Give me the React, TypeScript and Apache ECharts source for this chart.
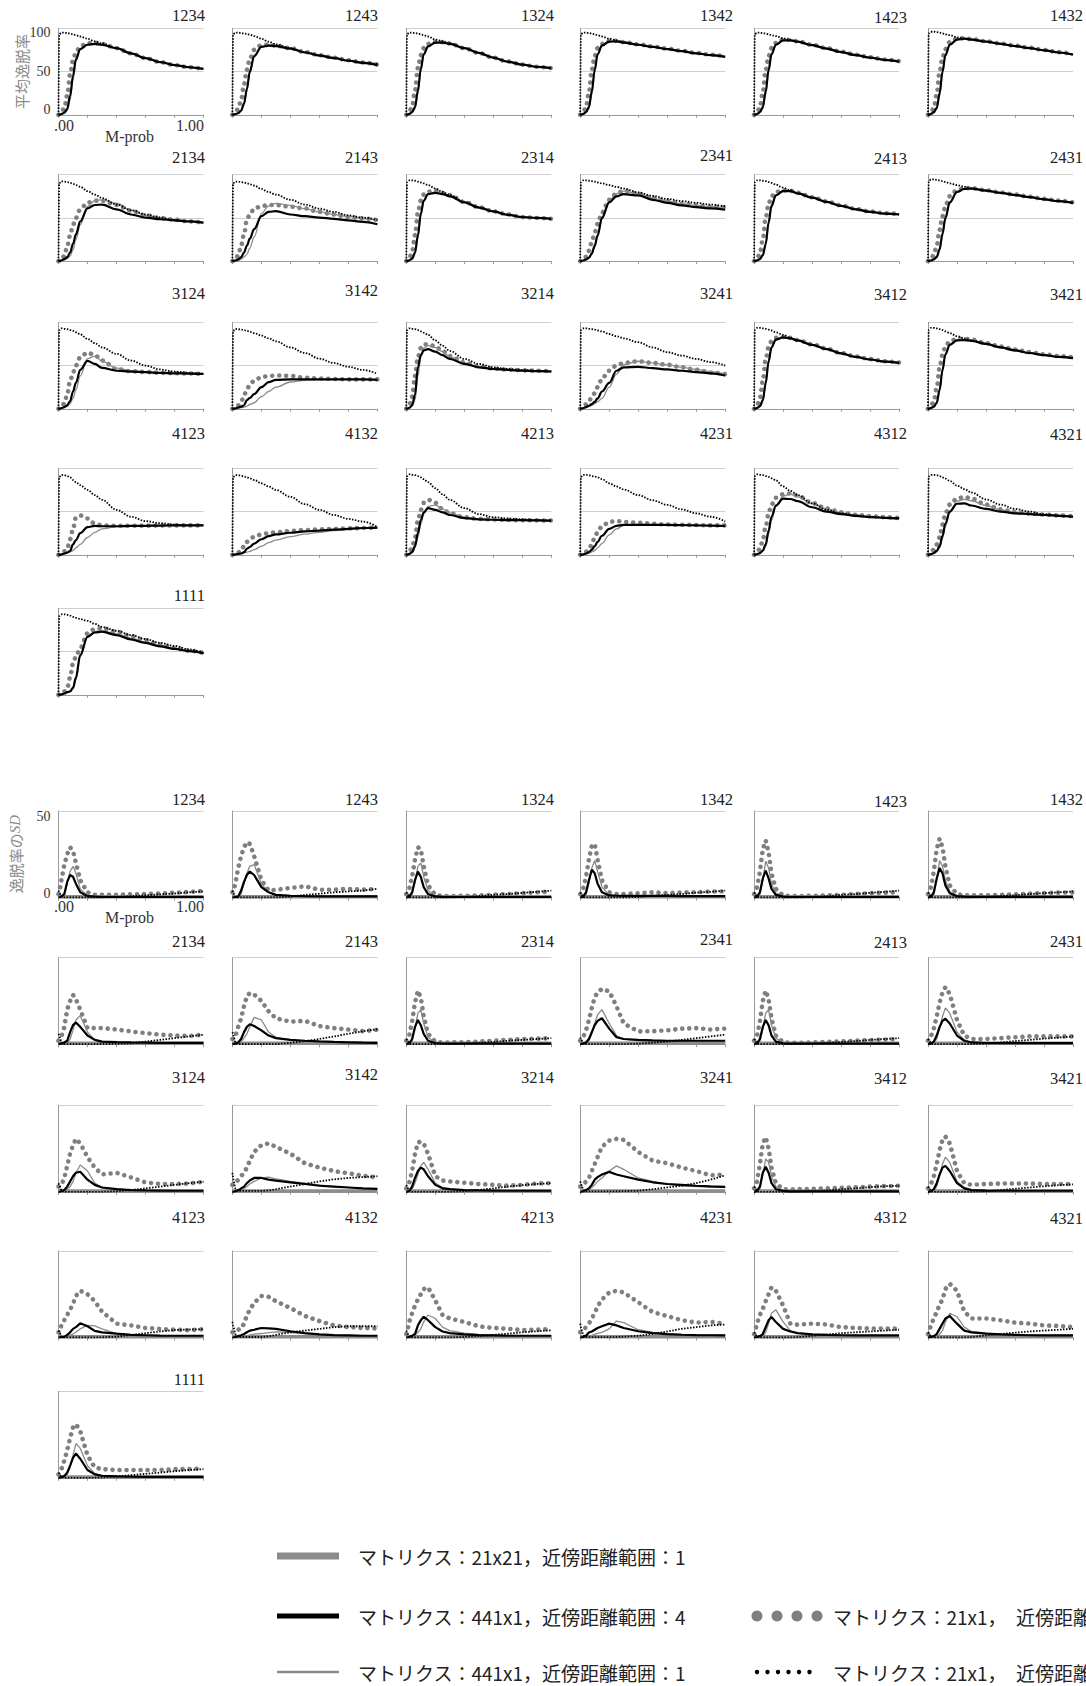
import React, { useEffect, useRef } from "react";
import * as echarts from "echarts";

// ---------------- data ----------------
const PANELS = ["1234","1243","1324","1342","1423","1432","2134","2143","2314","2341","2413","2431","3124","3142","3214","3241","3412","3421","4123","4132","4213","4231","4312","4321","1111"];

const X = [0, 0.005, 0.02, 0.04, 0.06, 0.08, 0.1, 0.12, 0.15, 0.2, 0.25, 0.3, 0.4, 0.5, 0.6, 0.7, 0.8, 0.9, 1.0];

const MEAN_Y_TICKS = [0, 50, 100];
const SD_Y_TICKS = [0, 50];
const X_TICKS = [0, 0.2, 0.4, 0.6, 0.8, 1.0];
const X_TICK_LABELS = [".00", "", "", "", "", "1.00"];

// 平均逸脱率 — マトリクス：21x1 (dotted black)
const MEAN_DOTTED = [
  [0,93,95,95,94.5,94,93,92,90.5,88,85,82.5,77,71,65.5,61,57.5,55,53],
  [0,93,95,95,94.5,94,93.5,92.5,91,88,84.5,81.5,77,72.5,69,66,63,60.5,58.5],
  [0,93,95,95,94.5,94,93,92,90.5,87,85,82.5,77,71.5,66,61.5,58,55.5,54],
  [0,93,95,95,94.5,94,93,92,90.5,88,86,84,81,78.5,76,73.5,71,69,67],
  [0,93,95,95,94.5,94,93,92,91,88.5,86.5,84.5,80.5,76.5,72.5,69,66,63.5,61.5],
  [0,94,96,96,95.5,95,94,93,92,89.5,88,87,84.5,82,79.5,77,74.5,72,69.5],
  [0,90,92.4,92,91.5,90.5,89.5,88,86,81,77,73,65.5,59,54,50.5,47.7,45.8,44.5],
  [0,90,92,92,91.5,91,90,89,87.5,83.5,80,77,71,65.5,60.7,57,53,50.4,47.7],
  [0,91,93.5,93.5,93,92,91,90,88,84,80,76.5,68.5,62.5,57.7,54,51,50,49],
  [0,91,93.5,93.5,93,92.5,92,91,90,88,86,84,79.5,75.5,72,69.5,67.5,65.5,63.5],
  [0,91,93.5,93.5,93,92.5,91.5,90.5,88.5,85,82,78.5,73.5,68.5,64,60,57,55,54],
  [0,92,94.5,94.5,94,93.5,92.5,91.5,90,88,86,84.3,81.5,79,76.5,74,71.5,69.5,67.5],
  [0,91,93,92.5,92,91,90,88.5,86,80.8,76,71,63.5,55.8,50,45.5,43,41.5,40.4],
  [0,90,92.3,92,91.5,91,90,89,87.5,84.6,81.5,78,71,64.5,58,53,48.5,45,40.5],
  [0,91,93,92.5,92,91,89.5,88,85.5,79,73,67,57.7,52,48,46,45,44,43.5],
  [0,91,93,93,92.5,92,91.5,90.5,89.5,86.5,84,81.5,77,71,65.5,61.5,57.7,54,50],
  [0,91,93.5,93.5,93,92.5,91.5,90.5,88.5,85.5,82,79,74,69,64,60,57,54.5,53],
  [0,91,93.5,93.5,93,92,91,89.5,87.5,84,81.5,79,75,71,67.5,64.5,62,60,58.5],
  [0,90,92.3,92,91,89.5,86.5,84,80.5,75,69,63.5,52,44,39,36.5,35,34,34],
  [0,90,92,92,91.5,90.5,89.5,88.5,86.5,82.7,79,75,67,58.5,52,46,41.5,38.5,32],
  [0,91,93,92.5,92,91,89.5,87.5,84,77,70,63.5,54,47,43.5,42,41,40.3,39.6],
  [0,90,92.5,92.5,92,91,90.5,89.5,87.5,82.7,79,75.5,69,63,57.7,52.5,48,44,38.5],
  [0,91,93,92.5,92,91,90,88.5,86,79,74,69,59.6,52,48,45.5,44,43,42.3],
  [0,90.5,92.5,92.5,92,91,89.5,88,85.5,80,76,72,64,58,53,50,47,45.5,44],
  [0,91,93,93,92.5,91.5,90,89,87.5,85.5,82,78.5,74,69,64.5,60,56.5,52.5,48.5],
];

// 平均逸脱率 — マトリクス：441x1，近傍距離範囲：4 (thick black)
const MEAN_BLACK = [
  [0,0,1,2.5,7,22,45,64,76,81,82,81,77,71,65.5,61,57.5,55,53],
  [0,0,0.8,2,5,13,30,50,68,78.5,80,79.5,76.5,72,68.5,65.5,62.5,60,57.5],
  [0,0,1,3,9,28,53,70,79,83.5,83.5,82,77,71.5,66,61.5,58,55.5,54],
  [0,0,1,3,9,27,52,70,80,84.5,85,83.5,81,78.5,76,73.5,71,69,67],
  [0,0,1,3,9,27,52,70,81,86,86,84.5,80.5,76.5,72.5,69,66,63.5,61.5],
  [0,0,1,3,8,25,50,69,81,87,88,87,84.5,82,79.5,77,74.5,72,69.5],
  [0,0,1,2.5,4.6,10,20,31,46,61,65,65.5,60,54,50.4,48.5,47.3,46,44.7],
  [0,0,0.8,2,4.6,10,18,26,37,52,57,58,54,52,50.4,49,47.3,45.5,42.7],
  [0,0,1,3,10,30,55,70,77.5,79,77.5,75,68,62,57.5,53.5,51,50,49],
  [0,0,0.8,2,4,9,18,30,50,68,75,77.5,76,71,67.5,64.5,62.5,61,59.5],
  [0,0,1,2.5,7,20,45,64,76,81,81,78.5,73.5,68.5,64,60,57,55,54],
  [0,0,0.8,2,5,14,32,50,68,80,83.5,84,81.5,79,76.5,74,71.5,69.5,67.5],
  [0,0,0.8,2,4,9,20,30,45,55.5,52,47.3,44,43,42.3,41.5,41,40.7,40.4],
  [0,0,0.5,1.5,2.5,4,10,12.5,17,25,30.8,33.5,34,34,34,34,34,34,33.5],
  [0,0,1,4,16,48,62,67.5,69,66,62,57.7,52,48,46,45,44,43.5,43],
  [0,0,0.8,2,3.5,5.5,8,12,20,30,44,48,48.5,47,45.5,44,42.5,41,38.5],
  [0,0,1,3,10,30,55,71,80,82.5,81.5,79,74,69,64,60,57,54.5,53],
  [0,0,1,2.5,7,22,45,63,74,79,79.5,78.5,75,71,67.5,64.5,62,60,58.5],
  [0,0,0.5,1.5,2.5,4.5,12,17,25,32,33.5,33,33,33.5,33.5,33.8,34,34,34],
  [0,0,0.5,1,1.5,3,7,9,13,18,21.5,23.5,25.5,27,28,29,30,31,31.5],
  [0,0,1,3,10,25,40,49,54,52,49,46,42.5,41,40.5,40,40,39.8,39.5],
  [0,0,0.5,1.5,3,6,10,15,22,30,33.5,34.5,34.5,34.5,34.5,34.3,34,33.8,33.5],
  [0,0,0.8,2,5,12,28,44,57,65,64.5,62,55,50,47,45,43.5,42.8,42],
  [0,0,0.8,2,4.5,10,22,36,50,59,59.5,57,53,50,48,47,46,45,44],
  [0,0,0.5,1.5,3,4,8,20,46,67,72,73,69,64,60,56,53,50.5,48],
];

// 平均逸脱率 — マトリクス：441x1，近傍距離範囲：1 (thin gray)
const MEAN_GRAY = [
  [0,0,0.8,2,5,17,40,62,76,81.5,82.5,81,77,71,65.5,61,57.5,55,53],
  [0,0,0.6,1.5,4,11,27,48,67,79,81,80,77,72.5,69,66,63,60.5,58],
  [0,0,0.8,2.5,7,24,50,69,79,84,84,82.5,77,71.5,66,61.5,58,55.5,54],
  [0,0,0.8,2.5,7,23,49,69,80,85,85.5,84,81.5,79,76.5,74,71.5,69.5,67.5],
  [0,0,0.8,2.5,7,23,49,69,81,86.5,86.5,85,81,77,73,69.5,66.5,64,62],
  [0,0,0.8,2.5,6,21,47,68,81,87.5,88.5,87.5,85,82.5,80,77.5,75,72.5,70],
  [0,0,0.5,1.5,3,6,13,25,42,63,70,71,67,59,53,50,48,46,44.5],
  [0,0,0.5,1,2.5,5,8,15,28,55,64,66.8,64.5,60.7,57,54,51.5,49,47.7],
  [0,0,0.8,2.5,8,26,52,69,78,80,78.5,76,68.5,62.5,57.7,54,51,50,49],
  [0,0,0.6,1.5,3.5,8,16,28,48,70,78,81,78,73,69.5,66.5,64.5,63,62],
  [0,0,0.8,2,6,18,42,62,76,81.5,81.5,79,74,69,64.5,60.5,57.5,55.5,54.5],
  [0,0,0.6,1.5,4,12,29,48,67,80.5,84,84.5,82,79.5,77,74.5,72,70,68],
  [0,0,0.5,1.5,3,6,12,22,38,58,61,55,47,44,42.5,41.7,41.2,40.8,40.4],
  [0,0,0.3,0.8,1.5,2,3,5,7,14,20,25,31,33,33.8,34,34,34,34],
  [0,0,0.8,3,10,38,60,70,73,71,66,60,53,48.5,46.2,45.2,44.3,43.8,43.3],
  [0,0,0.5,1.5,2.5,4,6,8,12,25,40,51,55,53,51,48,45.5,43,40],
  [0,0,0.8,2.5,8,27,53,70,80,83,82,79.5,74.5,69.5,64.5,60.5,57.5,55,53.5],
  [0,0,0.8,2,6,20,43,62,74,80,80.5,79.5,75.5,71.5,68,65,62.5,60.5,59],
  [0,0,0.3,1,2,3.5,5,8,12,20,26,30,32.5,33,33.5,33.8,34,34,34],
  [0,0,0.3,0.8,1.2,2,3,4,6,10,14,17,21,24,26,28,29.5,30.5,31],
  [0,0,0.8,2.5,8,20,35,47,56,57.5,53,48.5,43.5,41.5,40.8,40.3,40,39.8,39.6],
  [0,0,0.3,1,2,3.5,5,8,13,23,30,34,35.5,35,34.5,34.3,34,33.8,33.5],
  [0,0,0.6,1.5,4,10,24,40,56,68,70,67,59,53,48.5,46,44.5,43.3,42.5],
  [0,0,0.6,1.5,3.5,8,19,33,49,62,64,62.5,57,52,49,47.5,46.3,45.3,44.3],
  [0,0,0.5,1.2,2.5,4,7,17,44,67,73,74,70.5,65.5,61,57,54,51,48.5],
];

// 平均逸脱率 — マトリクス：21x1 (gray dots)
const MEAN_DOTS = [
  [0,0.5,3,8,22,47,63,72,79,83,83,82,77,71,65.5,61,57.5,55,53],
  [0,0.5,2.5,7,17,35,52,65,75,80.5,81,80,77,72.5,69,66,63,60.5,58],
  [0,0.5,3,10,28,54,69,77,82,84.5,84,82.5,77,71.5,66,61.5,58,55.5,54],
  [0,0.5,3,9,26,52,68,77,82,85.5,85.5,84,81.5,79,76.5,74,71.5,69.5,67.5],
  [0,0.5,3,9,26,52,68,77,83,87,86.5,85,81,77,73,69.5,66.5,64,62],
  [0,0.5,3,8,24,50,66,76,84,88,88.5,87.5,85,82.5,80,77.5,75,72.5,70],
  [0,0.3,2,6,17,30,42,50,60,67.6,70,70,65,58.5,53,50,48,46,44.5],
  [0,0.3,2,6.5,18,31,48,54,60.7,63.7,65,65,63,61,57,54,51,49.5,47.5],
  [0,0.5,3.5,11,30,56,70,77,80.5,81.5,79,76.5,68.5,62.5,57.7,54,51,50,49],
  [0,0.3,2,5,12,22,33,43,56,71,78,81.5,78,73,69.5,66.5,64.5,63,62],
  [0,0.5,3,9,25,50,66,75,80,82,81.5,79,74,69,64.5,60.5,57.5,55.5,54.5],
  [0,0.4,2.5,7,18,36,52,64,75,82,84.5,84.5,82,79.5,77,74.5,72,70,68],
  [0,0.3,2,6,17,32,42,50,59.6,65,62,55.8,46,43.5,42.5,41.7,41.2,40.8,40.4],
  [0,0.3,1.5,4,8,15,23,27,32.7,36.5,38,38.5,38,36,35,34.5,34,34,34],
  [0,0.5,4,14,38,60,70,74,75,72,67,61,53.5,49,46.5,45.3,44.5,44,43.5],
  [0,0.3,2,5,9,13,18,25,35,44,50,53,55,53,51,48,45,42,40],
  [0,0.5,4,12,32,57,71,78,82,83,82,79.5,74.5,69.5,64.5,60.5,57.5,55,53.5],
  [0,0.5,3,9,24,47,63,72,78,81,81,80,76,72,68.5,65.5,63,61,59.5],
  [0,0.3,2,4,7,18,30,43,45.5,42,36,34,33.5,33.5,33.7,33.8,34,34,34],
  [0,0.3,1.5,3,4,10,15,17.5,21,23.5,25,26,27.5,28.5,29.5,30,30.5,31,31.5],
  [0,0.5,3,9,20,40,52,60,63.5,60,53,48,43.5,41.5,40.8,40.3,40,39.8,39.6],
  [0,0.3,1.5,3.5,6,12,20,26,33,38,39,38,37,36,35,34.7,34.4,34,34],
  [0,0.4,2.5,7,17,33,48,58,66,70,71,68.5,60,53.5,49,46.3,44.7,43.5,42.5],
  [0,0.4,2.5,6,12,20,35,48,58,65,67,65,58,52.5,49.5,47.8,46.5,45.5,44.5],
  [0,0.4,2,4,7.8,20,36,44,54,71,76,77,73,68,63,58,54,51,48.5],
];

// 逸脱率のSD — マトリクス：21x21，近傍距離範囲：1 (thick gray, shown only in the SD panels)
const SD_THICK = [0.5,0.5,0.5,0.5,0.5,0.5,0.5,0.5,0.5,0.5,0.5,0.5,0.5,0.5,0.5,0.5,0.5,0.5,0.5];

// 逸脱率のSD
const SD_BLACK = [
  [0,0,0.5,2,9,13,12,8,3,0.8,0.5,0.3,0.3,0.3,0.3,0.3,0.3,0.3,0.3],
  [0,0,0.2,0.5,4,9,13,15,13,6,3,1.5,1,0.8,0.7,0.6,0.6,0.6,0.6],
  [0,0,0.5,3,10,15,12,6,2,0.6,0.4,0.3,0.3,0.3,0.3,0.3,0.3,0.3,0.3],
  [0,0,0.5,3,10,16,14,8,3,1.2,1,0.9,0.9,0.9,0.9,0.8,0.8,0.8,0.8],
  [0,0,0.5,3,11,15.5,11,5,1.5,0.5,0.3,0.3,0.3,0.3,0.3,0.3,0.3,0.3,0.3],
  [0,0,0.5,3,11,17,14,7,2.5,0.8,0.5,0.4,0.4,0.4,0.4,0.4,0.4,0.4,0.4],
  [0,0,0.3,1,2,7,11,12.5,10,5,2.5,1.5,1.2,1,0.9,0.8,0.8,0.8,0.8],
  [0,0,0.3,1,3,7,10,11.5,10.5,8,5,3.5,2.5,2,1.6,1.3,1.1,0.9,0.8],
  [0,0,0.5,3,10,14,11,6,2,0.6,0.4,0.3,0.3,0.3,0.3,0.3,0.3,0.3,0.3],
  [0,0,0.3,1,3,7,11,13.5,15,9,4,3,2.5,2.2,2,2,2,2,2],
  [0,0,0.5,3,10,14,11,5,1.5,0.5,0.3,0.3,0.3,0.3,0.3,0.3,0.3,0.3,0.3],
  [0,0,0.3,1.5,5,10,13.5,14.7,12,5,2,1,0.7,0.6,0.6,0.6,0.6,0.6,0.6],
  [0,0,0.3,1,3,6,9,11,11.6,7,4,2.5,1.5,1,0.8,0.7,0.6,0.6,0.6],
  [0,0,0.3,0.8,2,3,5,6.5,8,8,7,6.5,5.5,4.5,3.5,3,2.5,2,1.7],
  [0,0,0.5,3,8,12,14,13,9,4,2,1.5,1,0.8,0.7,0.6,0.6,0.6,0.6],
  [0,0,0.3,1,2,4,7,8.5,10,11.5,10,9,7,5.5,4.5,4,3.5,3.1,2.8],
  [0,0,0.5,3,11,14.5,11,5,1.5,0.5,0.3,0.3,0.3,0.3,0.3,0.3,0.3,0.3,0.3],
  [0,0,0.3,1.5,5,10,14,15,12,5,2,1,0.7,0.6,0.6,0.6,0.6,0.6,0.6],
  [0,0,0.2,0.4,1.5,3,5,6,8.2,6.5,3.8,3,2.2,1.5,1.3,1.1,1,1,1],
  [0,0,0.3,0.8,1.3,2,3,4,4.5,5.5,5.3,5,3.6,2.5,1.8,1.4,1.2,1,1],
  [0,0,0.3,1,2,7,10,12,10,6,3.5,2.5,1.8,1.4,1.2,1,1,1,1],
  [0,0,0.3,1,2.9,3.5,4.5,5.5,6.5,8,7,5.5,3.6,2.5,2,1.6,1.4,1.3,1.2],
  [0,0,0.3,0.8,2,6,10,11.8,9,5,3.5,2.5,1.8,1.5,1.3,1.2,1.2,1.2,1.2],
  [0,0,0.3,0.8,2,5,8,11,12.4,8,4,3,2.2,1.8,1.5,1.3,1.2,1.2,1.2],
  [0,0,0.3,1,3,7,11.5,14,11,4.5,2,1.2,0.8,0.6,0.5,0.5,0.5,0.5,0.5],
];

const SD_GRAY = [
  [0,0,0.2,1,8,15,18,14,5,1,0.5,0.3,0.3,0.3,0.3,0.3,0.3,0.3,0.3],
  [0,0,0.2,0.5,2,8,14,18,19,8,3,1.5,1,0.8,0.6,0.5,0.5,0.5,0.5],
  [0,0,0.2,1.5,9,18,20,12,4,0.8,0.4,0.3,0.3,0.3,0.3,0.3,0.3,0.3,0.3],
  [0,0,0.2,1.5,8,17,21.4,15,6,1.5,1,0.8,0.8,0.8,0.8,0.8,0.8,0.8,0.8],
  [0,0,0.2,1.5,10,21,17,8,2.5,0.6,0.4,0.3,0.3,0.3,0.3,0.3,0.3,0.3,0.3],
  [0,0,0.2,1.5,10,21.4,18,10,3.5,1,0.5,0.4,0.4,0.4,0.4,0.4,0.4,0.4,0.4],
  [0,0,0.2,0.5,1,3,8,14,16.5,7,2.5,1.5,1,0.8,0.8,0.8,0.8,0.8,0.8],
  [0,0,0.2,0.5,1.5,3.5,6,10,15.5,14,7,4,2.5,1.8,1.4,1.2,1.1,1,1],
  [0,0,0.2,1.5,9,18,20,12,4,0.8,0.4,0.3,0.3,0.3,0.3,0.3,0.3,0.3,0.3],
  [0,0,0.2,0.5,2,6,12,17,20,12,5,3,2,1.6,1.4,1.3,1.2,1.2,1.2],
  [0,0,0.2,1.5,9,18,20,11,3.5,0.7,0.4,0.3,0.3,0.3,0.3,0.3,0.3,0.3,0.3],
  [0,0,0.2,0.8,3,9,16,21,18,7,2.5,1.2,0.8,0.6,0.6,0.6,0.6,0.6,0.6],
  [0,0,0.2,0.5,1.5,3,6,11,15.5,12,5,2.5,1.5,1,0.8,0.7,0.6,0.6,0.6],
  [0,0,0.2,0.5,1,2,3,4.5,6,8,8.5,7.5,6,5,4,3,2.5,2,1.7],
  [0,0,0.2,1.5,5,10,15,17,13,5,2.5,1.5,1,0.8,0.7,0.6,0.6,0.6,0.6],
  [0,0,0.2,0.5,1.5,2.5,4,6,8,12,15,13,8,6,4.5,3.5,3,2.7,2.5],
  [0,0,0.2,1.5,10,19,17,9,3,0.7,0.4,0.3,0.3,0.3,0.3,0.3,0.3,0.3,0.3],
  [0,0,0.2,0.8,3,9,16,20,17,6,2.5,1.2,0.8,0.6,0.6,0.6,0.6,0.6,0.6],
  [0,0,0.2,0.3,0.6,1.2,2,3,5,7,6.7,5,2.3,1.6,1.3,1.1,1,1,1],
  [0,0,0.2,0.3,0.5,0.8,1,1.5,2,2.3,2.8,3.2,2.9,2.3,1.7,1.4,1.2,1,1],
  [0,0,0.2,0.5,1.5,3,5,9,13,11,6,4,2.5,1.8,1.4,1.2,1,1,1],
  [0,0,0.2,0.4,0.8,1.2,1.8,2.4,3,5,9.5,8.6,4.5,3,2.2,1.8,1.6,1.5,1.5],
  [0,0,0.2,0.4,1,3,8,14,16,9,4,2.5,1.8,1.4,1.2,1,1,1,1],
  [0,0,0.2,0.4,1,2,4,9,14,12,6,3.5,2.5,2,1.6,1.4,1.3,1.3,1.3],
  [0,0,0.2,0.6,2,6,13,19.8,17,7,2.5,1.3,0.8,0.6,0.5,0.5,0.5,0.5,0.5],
];

const SD_DOTS = [
  [2,3,10,19,25,29,27,20,10,3,1.5,1.5,1.5,1.8,2,2.3,2.8,3.2,3.8],
  [3,3,8,17,24,29,32,31,24,10,4,4.5,5.5,6.5,4.5,4.5,5,4.5,5],
  [2,3,5,12,22,29,28,18,7,1.5,0.8,0.8,1,1.2,1.6,2,2.5,3,3.5],
  [2,3,5,12,22,30,31,22,10,3,2,2,2.5,3,2.5,3,3,3.5,3.5],
  [2,3,6,15,28,33,26,14,5,1.2,0.8,0.8,1,1.2,1.5,2,2.5,2.8,3],
  [2,3,6,15,28,34,29,18,7,2,1.2,1.2,1.3,1.5,1.8,2.2,2.5,2.8,3],
  [2,3,4.5,10,20,25,28.5,26,20,9.3,9.3,9.3,8.5,7.4,6.4,5.5,5,4.8,5.5],
  [3,3,4.5,10,15,22,27.7,29.6,28.7,25,19,15,13,13.5,10.5,9.3,8.5,7.5,8.3],
  [2,3,5,13,24,31,27,16,6,1.5,1,1,1.2,1.5,2,2.5,3,3.2,3.5],
  [2,3,4,8,14,21,27,30,32,30.5,22,12,7.4,7.5,8,9,9.3,8.5,9],
  [2,3,5,13,25,31,26,15,5,1.2,0.8,0.8,1,1.3,1.6,2,2.4,2.7,3],
  [2,3,4.5,9,16,24,30,33,29,14,5,3,3,3.5,4,4.5,4.5,4.5,4.5],
  [3,3,4,8,15,22,27,30.6,28,20,14,10,11,8.3,5.4,4.5,4.5,4.8,5.8],
  [4,4,5,7,9,11,14,18,23,27,28,26,22,16.5,14,12,10.7,9.3,8.3],
  [2,3,5,12,22,28.5,29,28,22,9,6.5,6,5.2,4.5,4,3.5,4,4.8,5],
  [3,3,4,6,8,12,16,20,26,29.6,30.6,30,23,18,16.5,14,12,9.5,10],
  [2,3,6,16,28,31.6,25,14,5,1.5,1.5,1.5,1.7,2,2.3,2.6,3,3.3,3.5],
  [2,3,4.5,9,16,24,30,32,28,12,5,4,4.5,4.8,4.8,4.8,4.5,4.5,4.5],
  [3,3,7,10,13,16,19.5,24,27,25,21,15,8,7,5.5,5,4.5,4.2,4.8],
  [3,3,4,4.5,5,8,12.8,16,20,24,23.5,21,17,12.5,9.5,7,6,5.5,5.2],
  [2,3,9,14,18.5,22,25,28,29,21.4,13,11,9,6.5,5.5,5,4.3,4.5,5],
  [3,3,4,6,8,11,14,18,22,26,27,26,20.4,14.7,12.4,10,8.6,9,8],
  [2,3,8,13,16.6,21,25,29,27,18.5,8,7.4,8,7.5,6,5.5,5.2,5.2,5.2],
  [2,3,7,11,14.7,19,22,28,31,27,15,11,11,10,8.6,8,7,6.7,6],
  [2,3,5,10,16,23,29,31,27,13,6,5,4.5,4.5,4.5,4.5,5,5,5.5],
];

const SD_DOTTED = [
  [4,3,0.5,0,0,0,0,0,0,0,0,0,0.3,0.8,1.3,1.8,2.3,3,3.5],
  [4,3,0.3,0,0,0,0,0,0,0,0,0,0.5,1.5,2.2,3,3.5,4,5],
  [3,2.5,0.3,0,0,0,0,0,0,0,0,0,0.3,0.8,1.5,2,2.7,3.3,4],
  [3,2.5,0.3,0,0,0,0,0,0,0,0,0,0.3,1,1.5,2,2.8,3.3,4],
  [3,2.5,0.3,0,0,0,0,0,0,0,0,0,0.3,0.8,1.5,2,2.7,3.3,4],
  [3,2.5,0.3,0,0,0,0,0,0,0,0,0,0.3,0.8,1.3,2,2.5,3,3.5],
  [6,5,1,0,0,0,0,0,0,0,0,0,0.2,0.5,1.5,2.5,3.5,4.5,5.5],
  [7,6,1,0,0,0,0,0,0,0,0,0,0.8,1.8,3,4.5,6,7.5,8.7],
  [3,2.5,0.3,0,0,0,0,0,0,0,0,0,0.3,0.8,1.3,2,2.5,3,3.5],
  [4,3,0.5,0,0,0,0,0,0,0,0,0,0.3,0.8,1.5,2.5,3.5,4.5,5.5],
  [3,2.5,0.3,0,0,0,0,0,0,0,0,0,0.3,0.8,1.3,1.8,2.5,3,3.5],
  [3,2.5,0.3,0,0,0,0,0,0,0,0,0,0.3,1,1.8,2.5,3.2,3.8,4.5],
  [5,4,0.8,0,0,0,0,0,0,0,0,0,0.3,1,2,3,4,5,5.8],
  [11,8,2,0.5,0.5,0.5,0.5,0.5,0.5,0.5,0.8,1.5,3,4.5,6,7.2,8,8.5,9],
  [4,3,0.5,0,0,0,0,0,0,0,0,0,0.3,1,2,3,3.8,4.5,5],
  [6,5,1,0.3,0.3,0.3,0.3,0.3,0.3,0.3,0.3,0.4,0.6,1.5,2.5,3.5,5,7,9.5],
  [3,2.5,0.3,0,0,0,0,0,0,0,0,0,0.3,0.8,1.5,2,2.7,3.2,3.5],
  [3,2.5,0.3,0,0,0,0,0,0,0,0,0,0.3,1,1.8,2.5,3.2,3.8,4.3],
  [4,3.5,0.5,0,0,0,0,0,0,0,0,0.1,0.5,1.5,2.5,3.5,4.3,4.6,4.8],
  [9,7,2,0.3,0.3,0.3,0.3,0.3,0.3,0.3,0.7,1.5,3,4,5,6,6.5,6.5,6.5],
  [4,3,0.5,0,0,0,0,0,0,0,0,0,0.3,0.8,1.5,2.2,3,3.6,4.2],
  [8,6,1.5,0.2,0.2,0.2,0.2,0.2,0.2,0.2,0.3,0.5,1,2,3.5,5,6,7,7.5],
  [3,2.5,0.3,0,0,0,0,0,0,0,0,0.2,1,1.8,2.5,3,3.5,4,4.5],
  [3,2.5,0.3,0,0,0,0,0,0,0,0,0.3,1.2,2,2.8,3.5,4,4.5,5],
  [3,2.5,0.3,0,0,0,0,0,0,0,0,0.2,0.8,1.5,2.3,3,3.8,4.5,5],
];

const LEGEND_LABELS = [
  "マトリクス：21x21，近傍距離範囲：1",
  "マトリクス：441x1，近傍距離範囲：4",
  "マトリクス：441x1，近傍距離範囲：1",
  "マトリクス：21x1，　近傍距離範囲：4",
  "マトリクス：21x1，　近傍距離範囲：1",
];
const Y_NAME_MEAN = "平均逸脱率";
const Y_NAME_SD = "逸脱率の{i|SD}";
const X_NAME = "M-prob";

// ---------------- layout / style ----------------
const W = 1086;
const H = 1686;
const SERIF = "'Liberation Serif', 'DejaVu Serif', serif";
const CJK = "'Noto Sans CJK JP', 'Noto Sans', sans-serif";
const GRID_LEFT0 = 58.5;
const COL_STEP = 173.9;
const GRID_W = 145;
const GRID_H = 86.5;
const MEAN_TOPS = [28.3, 174.7, 322.3, 468.3, 608.3];
const SD_TOPS = [811, 957.7, 1105.3, 1251, 1391.3];
const TITLE_RIGHT = [205, 378, 554, 733, 907, 1083];
const TITLE_Y = [15,15,15,15,17,15, 157,157,157,155,158,157, 293,290.5,293,293,294.5,294.5, 433,433,433,433,433,434, 595.5];
const SD_TITLE_SHIFT = 784;

const STYLES = [
  { color: "#8c8c8c", width: 3.5, type: "solid" as any, cap: "butt", z: 1 },      // thick gray
  { color: "#7f7f7f", width: 4.6, type: [0.01, 7], cap: "round", z: 2 },           // gray dots
  { color: "#8a8a8a", width: 1.3, type: "solid" as any, cap: "butt", z: 3 },      // thin gray
  { color: "#000000", width: 2.2, type: "solid" as any, cap: "butt", z: 4 },      // thick black
  { color: "#000000", width: 1.8, type: [1.5, 1.5], cap: "butt", z: 5 },           // dotted black
];

function buildOption() {
  const grid: any[] = [];
  const xAxis: any[] = [];
  const yAxis: any[] = [];
  const series: any[] = [];
  const graphic: any[] = [];

  const blocks = [
    { tops: MEAN_TOPS, max: 100, ticks: MEAN_Y_TICKS, sets: [null, MEAN_DOTS, MEAN_GRAY, MEAN_BLACK, MEAN_DOTTED], thick: null as any,
      rich: { t: [8, 0, 0, 0], b: [0, 0, 11.5, 0] }, xMargin: 3, smooth: 0.35 },
    { tops: SD_TOPS, max: 50, ticks: SD_Y_TICKS, sets: [null, SD_DOTS, SD_GRAY, SD_BLACK, SD_DOTTED], thick: SD_THICK,
      rich: { t: [11, 0, 0, 0], b: [0, 0, 9, 0] }, xMargin: 0.5, smooth: false },
  ];

  blocks.forEach((blk, b) => {
    PANELS.forEach((name, k) => {
      const g = b * PANELS.length + k;
      const row = Math.floor(k / 6);
      const col = k % 6;
      const first = k === 0;
      grid.push({ left: GRID_LEFT0 + col * COL_STEP, top: blk.tops[row], width: GRID_W, height: GRID_H });

      xAxis.push({
        type: "value", gridIndex: g, min: 0, max: 1, interval: 0.2,
        axisLine: { show: true, lineStyle: { color: "#9a9a9a", width: 1 } },
        axisTick: { show: true, length: 3, lineStyle: { color: "#9a9a9a" } },
        splitLine: { show: false },
        axisLabel: first ? {
          show: true, margin: blk.xMargin, showMinLabel: true, showMaxLabel: true,
          formatter: (v: number) => {
            const idx = X_TICKS.findIndex((t) => Math.abs(t - v) < 1e-6);
            const s = idx >= 0 ? X_TICK_LABELS[idx] : "";
            if (!s) return "";
            return idx === 0 ? `{a|${s}}` : `{c|${s}}`;
          },
          rich: {
            a: { fontFamily: SERIF, fontSize: 16, color: "#333", padding: [0, 0, 0, 11] },
            c: { fontFamily: SERIF, fontSize: 16, color: "#333", padding: [0, 27, 0, 0] },
          },
        } : { show: false },
      });

      yAxis.push({
        type: "value", gridIndex: g, min: 0, max: blk.max, interval: 50,
        axisLine: { show: true, lineStyle: { color: "#9a9a9a", width: 1 } },
        axisTick: { show: false },
        splitLine: { show: true, lineStyle: { color: "#cfcfcf", width: 1 } },
        axisLabel: first ? {
          show: true, margin: 8,
          formatter: (v: number) => {
            if (!blk.ticks.includes(v)) return "";
            const key = v === blk.max ? "t" : v === 0 ? "b" : "m";
            return `{${key}|${v}}`;
          },
          rich: {
            t: { fontFamily: SERIF, fontSize: 14, color: "#333", padding: blk.rich.t },
            b: { fontFamily: SERIF, fontSize: 14, color: "#333", padding: blk.rich.b },
            m: { fontFamily: SERIF, fontSize: 14, color: "#333" },
          },
        } : { show: false },
      });

      STYLES.forEach((st, s) => {
        if (s === 0 && !blk.thick) return;
        const vals = s === 0 ? blk.thick : (blk.sets[s] as number[][])[k];
        series.push({
          type: "line", xAxisIndex: g, yAxisIndex: g,
          data: X.map((x, i) => [x, vals[i]]),
          showSymbol: false, symbol: "none", silent: true, clip: true,
          smooth: blk.smooth, smoothMonotone: "x",
          z: st.z,
          lineStyle: { color: st.color, width: st.width, type: st.type, cap: st.cap },
        });
      });

      graphic.push({
        type: "text", silent: true,
        x: TITLE_RIGHT[col], y: TITLE_Y[k] + (b === 1 ? SD_TITLE_SHIFT : 0),
        style: { text: name, align: "right", verticalAlign: "middle", fontFamily: SERIF, fontSize: 16.5, fill: "#222" },
      });
    });
  });

  // axis names
  graphic.push({
    type: "text", silent: true, x: 21, y: 71.5, rotation: Math.PI / 2,
    style: { text: Y_NAME_MEAN, align: "center", verticalAlign: "middle", fontFamily: CJK, fontSize: 15, fill: "#8a8a8a" },
  });
  graphic.push({
    type: "text", silent: true, x: 15, y: 854, rotation: Math.PI / 2,
    style: {
      text: Y_NAME_SD, align: "center", verticalAlign: "middle", fontFamily: CJK, fontSize: 15, fill: "#8a8a8a",
      rich: { i: { fontFamily: SERIF, fontStyle: "italic", fontSize: 15, fill: "#8a8a8a" } },
    },
  });
  [136.7, 917].forEach((y) => {
    graphic.push({
      type: "text", silent: true, x: 129.5, y,
      style: { text: X_NAME, align: "center", verticalAlign: "middle", fontFamily: SERIF, fontSize: 16, fill: "#333" },
    });
  });

  // legend
  const LROW = [1556, 1616, 1672];
  const LX1 = 277, LX2 = 339, TX1 = 358, TX2 = 833;
  const legendText = (text: string, x: number, y: number) => ({
    type: "text", silent: true, x, y,
    style: { text, align: "left", verticalAlign: "middle", fontFamily: CJK, fontSize: 19, fill: "#222" },
  });
  graphic.push({ type: "line", silent: true, shape: { x1: LX1, y1: LROW[0], x2: LX2, y2: LROW[0] }, style: { stroke: "#8c8c8c", lineWidth: 7 } });
  graphic.push(legendText(LEGEND_LABELS[0], TX1, LROW[0]));
  graphic.push({ type: "line", silent: true, shape: { x1: LX1, y1: LROW[1], x2: LX2, y2: LROW[1] }, style: { stroke: "#000", lineWidth: 5 } });
  graphic.push(legendText(LEGEND_LABELS[1], TX1, LROW[1]));
  graphic.push({ type: "line", silent: true, shape: { x1: LX1, y1: LROW[2], x2: LX2, y2: LROW[2] }, style: { stroke: "#8a8a8a", lineWidth: 2.5 } });
  graphic.push(legendText(LEGEND_LABELS[2], TX1, LROW[2]));
  [757, 777, 797, 817].forEach((cx) => {
    graphic.push({ type: "circle", silent: true, shape: { cx, cy: LROW[1], r: 5.5 }, style: { fill: "#7f7f7f" } });
  });
  graphic.push(legendText(LEGEND_LABELS[3], TX2, LROW[1]));
  [757, 767.5, 778, 788.5, 799, 809.5].forEach((cx) => {
    graphic.push({ type: "circle", silent: true, shape: { cx, cy: LROW[2], r: 2.2 }, style: { fill: "#000" } });
  });
  graphic.push(legendText(LEGEND_LABELS[4], TX2, LROW[2]));

  return {
    animation: false,
    backgroundColor: "#ffffff",
    grid, xAxis, yAxis, series,
    graphic: { elements: graphic },
  };
}

export default function App() {
  const ref = useRef<HTMLDivElement>(null);
  useEffect(() => {
    if (!ref.current) return;
    const chart = echarts.init(ref.current, undefined, { renderer: "svg", width: W, height: H });
    chart.setOption(buildOption() as any);
    return () => chart.dispose();
  }, []);
  return (
    <div
      ref={ref}
      style={{ position: "absolute", left: 0, top: 0, width: W, height: H, background: "#fff", overflow: "hidden" }}
    />
  );
}
